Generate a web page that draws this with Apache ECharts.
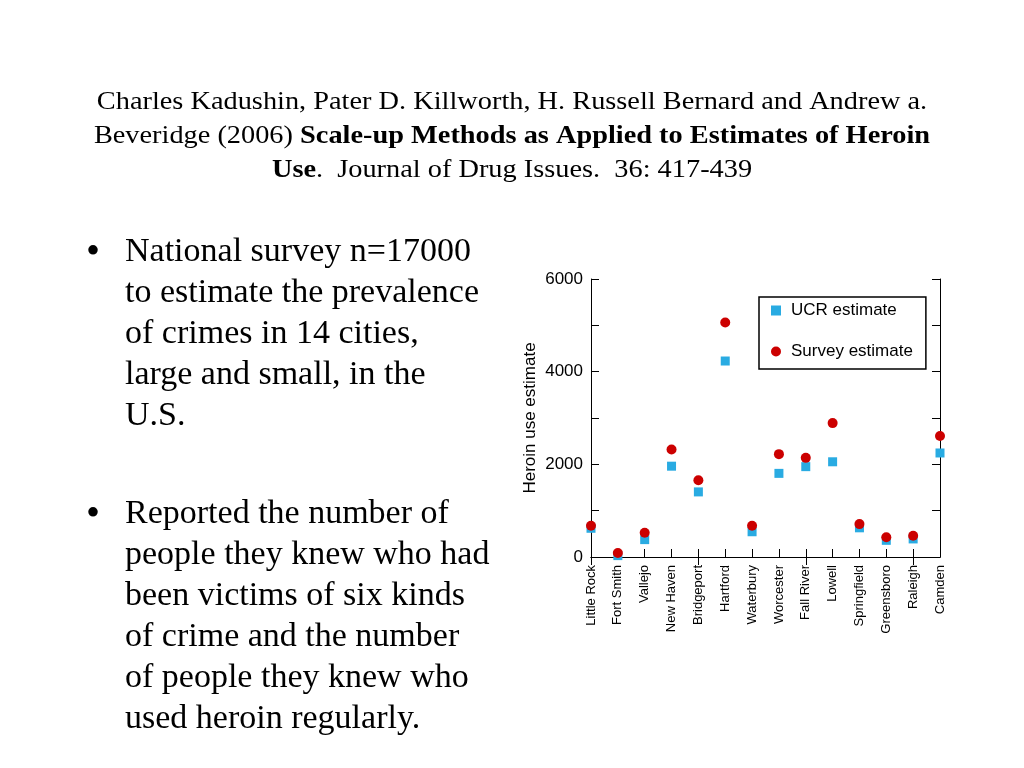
<!DOCTYPE html>
<html><head><meta charset="utf-8">
<script src="https://cdn.jsdelivr.net/npm/echarts@6/dist/echarts.min.js"></script>
<style>html,body{margin:0;padding:0;background:#fff}#c{width:1024px;height:768px}</style>
</head><body><div id="c"></div>
<script>
const cities = ['Little Rock','Fort Smith','Vallejo','New Haven','Bridgeport','Hartford','Waterbury','Worcester','Fall River','Lowell','Springfield','Greensboro','Raleigh','Camden'];
const ucrEstimate = [620, 30, 375, 1960, 1405, 4230, 545, 1805, 1950, 2055, 630, 360, 390, 2245];
const surveyEstimate = [675, 85, 525, 2320, 1655, 5060, 675, 2220, 2140, 2890, 710, 425, 460, 2610];
const yTicks = [0, 2000, 4000, 6000];
const bullet1 = ['National survey n=17000','to estimate the prevalence','of crimes in 14 cities,','large and small, in the','U.S.'];
const bullet2 = ['Reported the number of','people they knew who had','been victims of six kinds','of crime and the number','of people they knew who','used heroin regularly.'];

const serif = '"Liberation Serif", "Times New Roman", serif';
const sans = '"Liberation Sans", Arial, sans-serif';

const chart = echarts.init(document.getElementById('c'));

chart.setOption({
  backgroundColor: '#fff',
  animation: false,
  graphic: [
    {type: 'text', x: 512, y: 85, scaleX: 1.09, style: {
      text: '{n|Charles Kadushin, Pater D. Killworth, H. Russell Bernard and Andrew a.}\n{n|Beveridge (2006) }{b|Scale-up Methods as Applied to Estimates of Heroin}\n{b|Use}{n|.  Journal of Drug Issues.  36: 417-439}',
      align: 'center', verticalAlign: 'top',
      rich: {
        n: {fontFamily: serif, fontSize: 26, fontWeight: 'normal', fill: '#000', lineHeight: 34},
        b: {fontFamily: serif, fontSize: 26, fontWeight: 'bold', fill: '#000', lineHeight: 34}
      }
    }},
    {type: 'text', x: 86, y: 233, style: {text: '•', font: '40px ' + serif, fill: '#000'}},
    {type: 'text', x: 125, y: 232, style: {text: bullet1.join('\n'), font: '34px ' + serif, lineHeight: 41, fill: '#000'}},
    {type: 'text', x: 86, y: 495, style: {text: '•', font: '40px ' + serif, fill: '#000'}},
    {type: 'text', x: 125, y: 494, style: {text: bullet2.join('\n'), font: '34px ' + serif, lineHeight: 41, fill: '#000'}}
  ],
  grid: {left: 591, right: 84, top: 279, bottom: 211, containLabel: false},
  legend: {
    orient: 'vertical', left: 759, top: 297,
    padding: [5, 13, 9, 12], itemGap: 24,
    itemWidth: 10, itemHeight: 10,
    borderColor: '#000', borderWidth: 1.5,
    textStyle: {fontFamily: sans, fontSize: 17, color: '#000', padding: [0, 0, 0, 5]},
    data: ['UCR estimate', 'Survey estimate']
  },
  xAxis: [
    {type: 'category', data: cities, boundaryGap: false,
     axisLine: {lineStyle: {color: '#000', width: 1}},
     axisTick: {inside: true, length: 8, lineStyle: {color: '#000'}},
     axisLabel: {rotate: 90, fontFamily: sans, fontSize: 13, color: '#000', margin: 8, interval: 0},
     splitLine: {show: false}},
    {type: 'category', data: cities, boundaryGap: false, position: 'top',
     axisLine: {lineStyle: {color: '#000', width: 1}},
     axisTick: {inside: true, length: 8, lineStyle: {color: '#000'}},
     axisLabel: {show: false}, splitLine: {show: false}}
  ],
  yAxis: [
    {type: 'value', min: 0, max: 6000, interval: 1000,
     name: 'Heroin use estimate', nameLocation: 'middle', nameGap: 52,
     nameTextStyle: {fontFamily: sans, fontSize: 17, color: '#000'},
     axisLine: {show: true, lineStyle: {color: '#000', width: 1}},
     axisTick: {show: true, inside: true, length: 8, lineStyle: {color: '#000'}},
     axisLabel: {fontFamily: sans, fontSize: 17, color: '#000', margin: 8,
       formatter: v => yTicks.indexOf(v) >= 0 ? String(v) : ''},
     splitLine: {show: false}},
    {type: 'value', min: 0, max: 6000, interval: 1000, position: 'right',
     axisLine: {show: true, lineStyle: {color: '#000', width: 1}},
     axisTick: {show: true, inside: true, length: 8, lineStyle: {color: '#000'}},
     axisLabel: {show: false}, splitLine: {show: false}}
  ],
  series: [
    {name: 'UCR estimate', type: 'scatter', data: ucrEstimate, symbol: 'rect', symbolSize: 9,
     itemStyle: {color: '#29abe2', opacity: 1}, clip: false},
    {name: 'Survey estimate', type: 'scatter', data: surveyEstimate, symbol: 'circle', symbolSize: 10,
     itemStyle: {color: '#cc0000', opacity: 1}, clip: false}
  ]
});
</script></body></html>
